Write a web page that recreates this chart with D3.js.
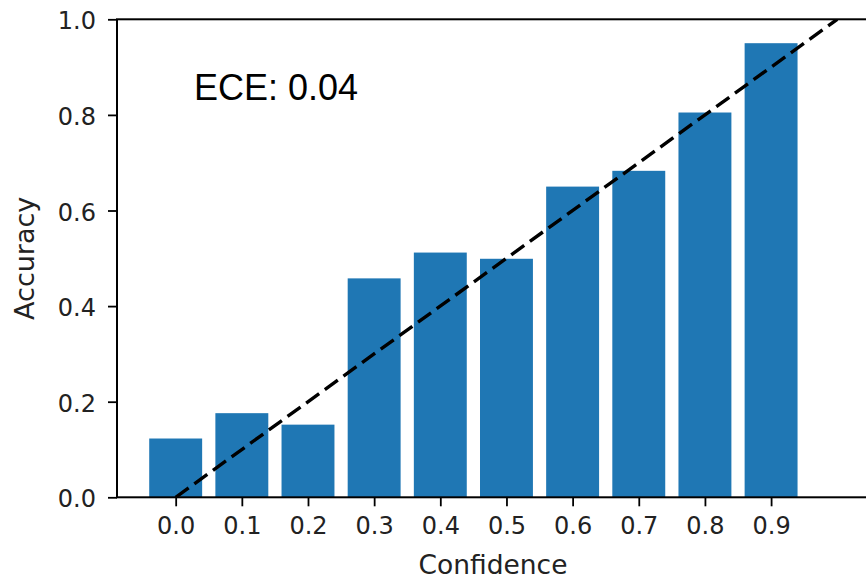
<!DOCTYPE html>
<html>
<head>
<meta charset="utf-8">
<script src="https://cdn.jsdelivr.net/npm/d3@7"></script>
<style>
  html, body { margin: 0; padding: 0; background: #fff; }
  svg { display: block; }
</style>
</head>
<body>
<svg id="chart" width="866" height="579"></svg>
<script>
// Reliability diagram: accuracy per confidence bin
const binStarts = [0.0, 0.1, 0.2, 0.3, 0.4, 0.5, 0.6, 0.7, 0.8, 0.9];
const accuracy = [0.123, 0.176, 0.152, 0.458, 0.512, 0.499, 0.650, 0.683, 0.805, 0.950];
const xTicks = [0.0, 0.1, 0.2, 0.3, 0.4, 0.5, 0.6, 0.7, 0.8, 0.9];
const yTicks = [0.0, 0.2, 0.4, 0.6, 0.8, 1.0];
const diagonal = [[0, 0], [1, 1]];
const eceText = "ECE: 0.04";
const barWidth = 0.08;

const svg = d3.select("#chart");
const plotLeft = 117, plotRight = 869, plotTop = 19.3, plotBottom = 497.3;

const x = d3.scaleLinear().domain([-0.0887, 1.048]).range([plotLeft, plotRight]);
const y = d3.scaleLinear().domain([0, 1]).range([plotBottom, plotTop]);

svg.append("defs").append("clipPath").attr("id", "plotClip")
  .append("rect").attr("x", plotLeft).attr("y", plotTop)
  .attr("width", plotRight - plotLeft).attr("height", plotBottom - plotTop);

const plot = svg.append("g").attr("clip-path", "url(#plotClip)");

plot.selectAll("rect.bar").data(binStarts).enter().append("rect")
  .attr("class", "bar")
  .attr("x", (d) => x(d - barWidth / 2))
  .attr("width", (d) => x(d + barWidth / 2) - x(d - barWidth / 2))
  .attr("y", (d, i) => y(accuracy[i]))
  .attr("height", (d, i) => y(0) - y(accuracy[i]))
  .attr("fill", "#1f77b4");

plot.append("path")
  .datum(diagonal)
  .attr("d", d3.line().x((d) => x(d[0])).y((d) => y(d[1])))
  .attr("fill", "none")
  .attr("stroke", "#000")
  .attr("stroke-width", 3.4)
  .attr("stroke-dasharray", "16,7");

// Axes
const tickFont = "'DejaVu Sans', sans-serif";
const xAxis = d3.axisBottom(x).tickValues(xTicks).tickFormat(d3.format(".1f"))
  .tickSizeInner(9).tickSizeOuter(0).tickPadding(11);
const yAxis = d3.axisLeft(y).tickValues(yTicks).tickFormat(d3.format(".1f"))
  .tickSizeInner(9).tickSizeOuter(0).tickPadding(12);

const gx = svg.append("g").attr("transform", `translate(0,${plotBottom})`).call(xAxis);
const gy = svg.append("g").attr("transform", `translate(${plotLeft},0)`).call(yAxis);

[gx, gy].forEach((g) => {
  g.select(".domain").remove();
  g.selectAll(".tick line").attr("stroke", "#000").attr("stroke-width", 1.8);
  g.selectAll(".tick text").attr("fill", "#222")
    .style("font-family", tickFont).style("font-size", "24px");
});
gy.selectAll(".tick text").attr("dy", "0.40em");

// Spines
svg.append("rect")
  .attr("x", plotLeft).attr("y", plotTop)
  .attr("width", plotRight - plotLeft).attr("height", plotBottom - plotTop)
  .attr("fill", "none").attr("stroke", "#000").attr("stroke-width", 2);

// Axis labels
svg.append("text")
  .attr("x", (plotLeft + plotRight) / 2).attr("y", 574)
  .attr("text-anchor", "middle")
  .style("font-family", tickFont).style("font-size", "26.5px").attr("fill", "#222")
  .text("Confidence");

svg.append("text")
  .attr("transform", `translate(34,${(plotTop + plotBottom) / 2}) rotate(-90)`)
  .attr("text-anchor", "middle")
  .style("font-family", tickFont).style("font-size", "27px").attr("fill", "#222")
  .text("Accuracy");

// Calibration error annotation
svg.append("text")
  .attr("x", 194).attr("y", 100)
  .style("font-family", "'Liberation Sans', Arial, sans-serif").style("font-size", "36px")
  .attr("fill", "#000")
  .text(eceText);
</script>
</body>
</html>
